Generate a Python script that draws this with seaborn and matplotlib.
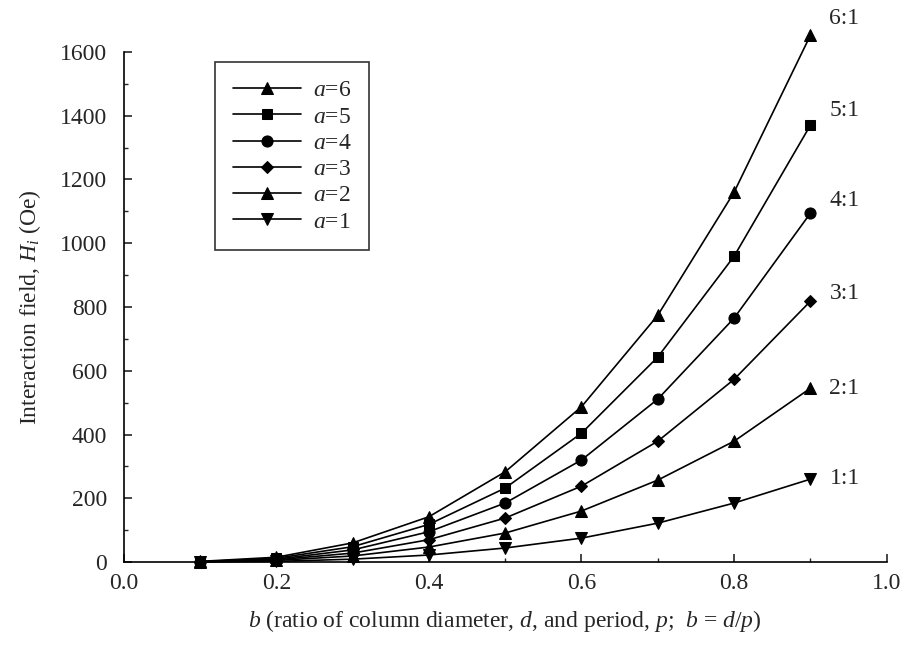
import numpy as np
import seaborn as sns
import matplotlib.pyplot as plt
import pandas as pd
from matplotlib.ticker import MultipleLocator

sns.set_style("ticks")
plt.rcParams['font.family'] = ['Liberation Serif', 'DejaVu Serif']
plt.rcParams['mathtext.fontset'] = 'custom'
plt.rcParams['mathtext.rm'] = 'Liberation Serif'
plt.rcParams['mathtext.it'] = 'Liberation Serif:italic'

b_values = [0.1, 0.2, 0.3, 0.4, 0.5, 0.6, 0.7, 0.8, 0.9]

a6 = [2, 15, 60, 142, 283, 487, 774, 1160, 1652]
a5 = [1, 12, 48, 118, 232, 404, 643, 959, 1370]
a4 = [1, 9, 38, 95, 185, 320, 511, 765, 1094]
a3 = [1, 7, 28, 70, 138, 238, 379, 573, 818]
a2 = [0.5, 5, 19, 47, 91, 160, 257, 379, 545]
a1 = [0.3, 2, 9, 22, 44, 75, 122, 185, 260]

series_names = ['$a$=6', '$a$=5', '$a$=4', '$a$=3', '$a$=2', '$a$=1']
ratio_labels = ['6:1', '5:1', '4:1', '3:1', '2:1', '1:1']
ratio_label_y = [1705, 1417, 1135, 843, 545, 263]

df = pd.DataFrame({
    'b': b_values * 6,
    'H': a6 + a5 + a4 + a3 + a2 + a1,
    'a': [n for n in series_names for _ in b_values],
})

marker_map = {'$a$=6': '^', '$a$=5': 's', '$a$=4': 'o',
              '$a$=3': 'D', '$a$=2': '^', '$a$=1': 'v'}
size_map = {'$a$=6': 8, '$a$=5': 7, '$a$=4': 8,
            '$a$=3': 6, '$a$=2': 8, '$a$=1': 8}

FS = 17

fig = plt.figure(figsize=(9.16, 6.49), dpi=100)
ax = fig.add_axes([0.135, 0.134, 0.833, 0.786])

for name in series_names:
    sub = df[df['a'] == name]
    sns.lineplot(data=sub, x='b', y='H', ax=ax, color='black', lw=1.2,
                 marker=marker_map[name], markersize=size_map[name],
                 markeredgecolor='black', markerfacecolor='black',
                 label=name, clip_on=False)

for lab, yy in zip(ratio_labels, ratio_label_y):
    ax.text(0.925, yy, lab, fontsize=FS, ha='left', va='center', clip_on=False)

ax.set_xlim(0, 1.0)
ax.set_ylim(0, 1600)
ax.xaxis.set_major_locator(MultipleLocator(0.2))
ax.xaxis.set_minor_locator(MultipleLocator(0.1))
ax.yaxis.set_major_locator(MultipleLocator(200))
ax.yaxis.set_minor_locator(MultipleLocator(100))
ax.xaxis.set_major_formatter(plt.FormatStrFormatter('%.1f'))
ax.tick_params(which='major', direction='in', length=6, width=1.2, labelsize=FS)
ax.tick_params(axis='y', which='major', pad=12)
ax.tick_params(axis='x', which='major', pad=8)
ax.tick_params(which='minor', direction='in', length=3, width=1.0)

sns.despine(ax=ax)
for sp in ['left', 'bottom']:
    ax.spines[sp].set_linewidth(1.2)
    ax.spines[sp].set_color('black')

ax.set_xlabel('$b$ (ratio of column diameter, $d$, and period, $p$;  $b$ = $d/p$)', fontsize=FS, labelpad=10)
ax.set_ylabel('Interaction field, $H_i$ (Oe)', fontsize=FS, labelpad=12)

leg = ax.legend(loc='upper left', bbox_to_anchor=(0.104, 1.003), fontsize=FS,
                handlelength=2.9, frameon=True, fancybox=False,
                edgecolor='black', labelspacing=0.2, borderpad=0.75,
                handletextpad=0.5)
leg.get_frame().set_linewidth(1.2)

fig.savefig('out.png', dpi=100)
